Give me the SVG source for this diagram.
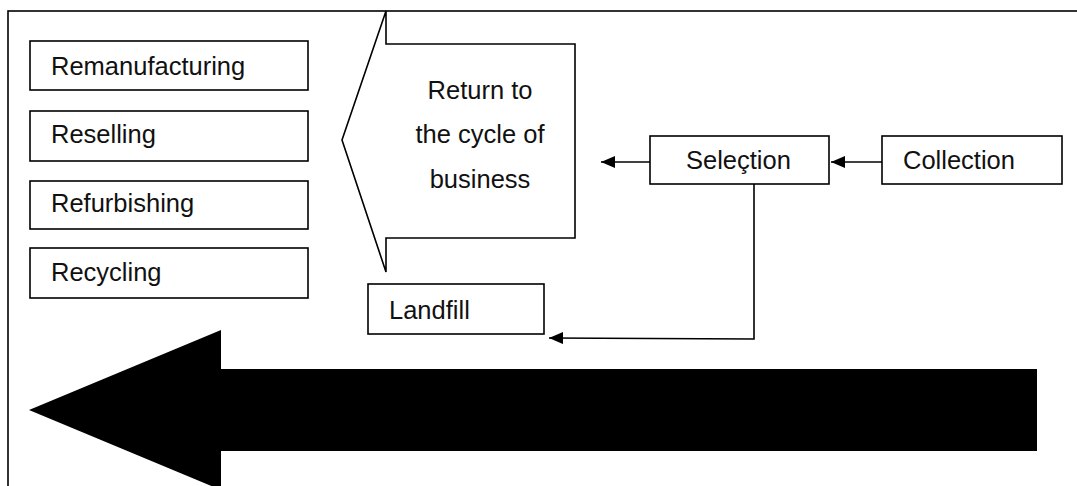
<svg xmlns="http://www.w3.org/2000/svg" width="1077" height="486" viewBox="0 0 1077 486">
<defs>
<style>
.box{fill:#fff;stroke:#000;stroke-width:1.6}
.t{font-family:"Liberation Sans",Arial,sans-serif;font-size:25.5px;fill:#111}
.c{fill:none;stroke:#000;stroke-width:1.6}
</style>
<marker id="ah" markerWidth="14" markerHeight="12" refX="14" refY="6" orient="auto" markerUnits="userSpaceOnUse">
<path d="M0,0 L14,6 L0,12 Z" fill="#000"/>
</marker>
</defs>
<rect width="1077" height="486" fill="#fff"/>
<rect x="8" y="11" width="1120" height="520" fill="none" stroke="#000" stroke-width="1.6"/>
<g id="big-arrow">
<polygon points="29,410 221,330 221,369 1037,369 1037,451 221,451 221,490" fill="#000"/>
</g>
<g id="remanufacturing"><rect class="box" x="30" y="41" width="278" height="49"/><text class="t" x="51" y="75">Remanufacturing</text></g>
<g id="reselling"><rect class="box" x="30" y="111" width="278" height="50"/><text class="t" x="51" y="143">Reselling</text></g>
<g id="refurbishing"><rect class="box" x="30" y="181" width="278" height="48"/><text class="t" x="51" y="212">Refurbishing</text></g>
<g id="recycling"><rect class="box" x="30" y="248" width="278" height="50"/><text class="t" x="51" y="281">Recycling</text></g>
<g id="return">
<polygon class="box" points="386,11 386,44 575,44 575,238 386,238 386,272 342,140"/>
<text class="t" text-anchor="middle" x="480" y="99">Return to</text>
<text class="t" text-anchor="middle" x="480" y="143">the cycle of</text>
<text class="t" text-anchor="middle" x="480" y="188">business</text>
</g>
<g id="landfill"><rect class="box" x="368" y="284" width="176" height="50"/><text class="t" x="389" y="319">Landfill</text></g>
<g id="selection"><rect class="box" x="650" y="136" width="179" height="48"/><text class="t" x="686" y="169">Seleçtion</text></g>
<g id="collection"><rect class="box" x="882" y="136" width="180" height="48"/><text class="t" x="903" y="169">Collection</text></g>
<g id="connectors">
<line class="c" x1="882" y1="162" x2="831" y2="162" marker-end="url(#ah)"/>
<line class="c" x1="650" y1="162" x2="601" y2="162" marker-end="url(#ah)"/>
<polyline class="c" points="754,184 754,339 549,338" marker-end="url(#ah)"/>
</g>
</svg>
